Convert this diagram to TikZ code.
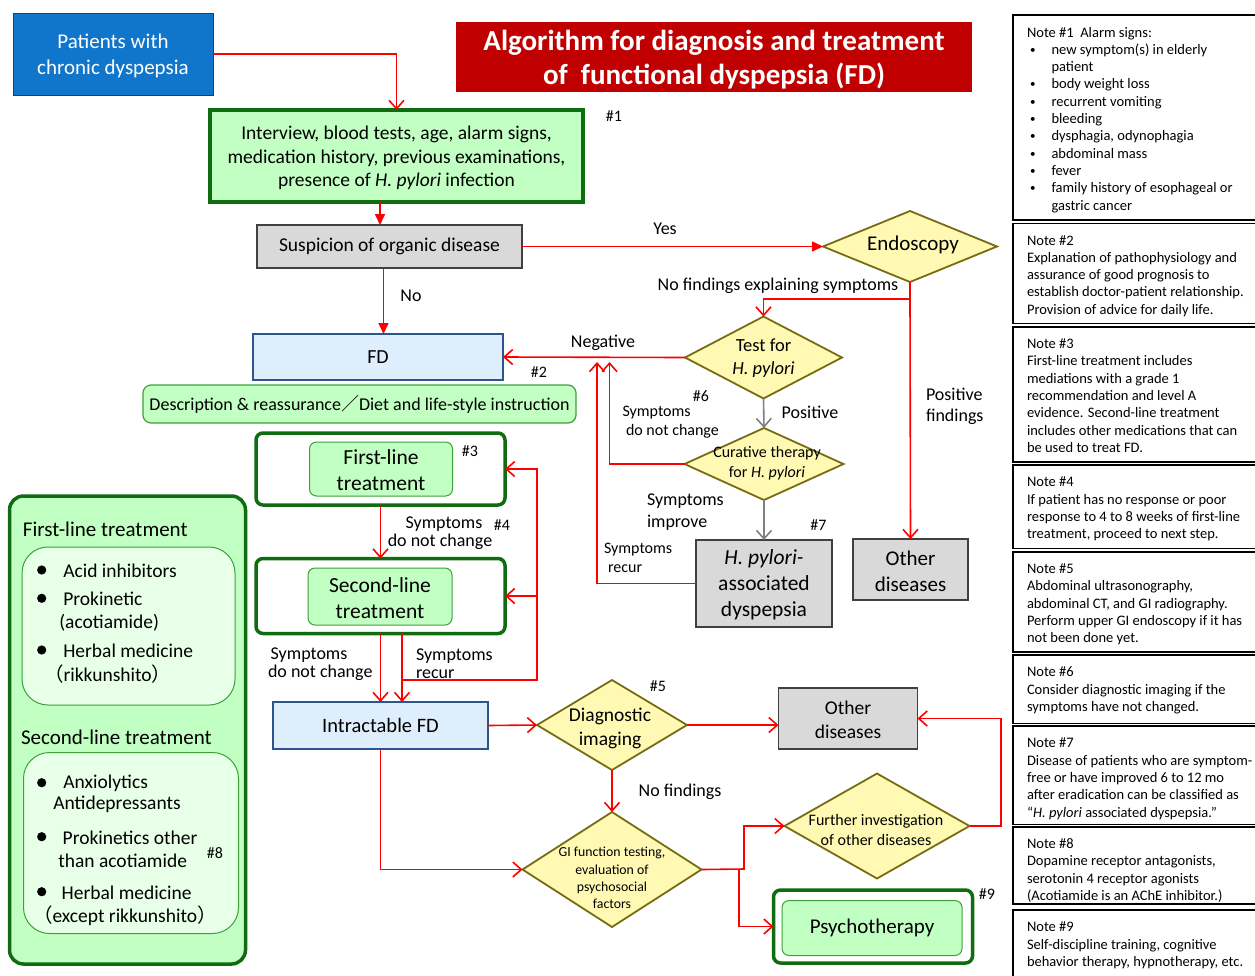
\documentclass[tikz,border=0pt]{standalone}
\usepackage{fontspec}
\setmainfont{Carlito}
\newfontfamily\cjkf{Noto Sans CJK JP}
\usetikzlibrary{arrows.meta,shapes.geometric,calc}
\definecolor{pblue}{RGB}{16,118,204}
\definecolor{pbluedk}{RGB}{30,60,110}
\definecolor{tred}{RGB}{192,0,0}
\definecolor{lgreen}{RGB}{194,255,194}
\definecolor{dgreen}{RGB}{16,108,16}
\definecolor{mgreen}{RGB}{60,160,60}
\definecolor{pgreen}{RGB}{232,255,232}
\definecolor{lblue}{RGB}{222,238,252}
\definecolor{bbord}{RGB}{45,85,140}
\definecolor{gfill}{RGB}{217,217,217}
\definecolor{gbord}{RGB}{64,64,64}
\definecolor{dfill}{RGB}{255,249,180}
\definecolor{dbord}{RGB}{118,108,18}
\definecolor{arrgray}{RGB}{128,128,128}
\newcommand\fsz[2]{\fontsize{#1}{#2}\selectfont}
\newcommand\notebul{\hspace*{3pt}\makebox[21.5pt][l]{\raisebox{1pt}{\fsz{11}{11}•}}}
\newcommand\notecont{\hspace*{24.5pt}}
\begin{document}
\begin{tikzpicture}[x=1pt,y=-1pt,
  every node/.style={inner sep=0pt, outer sep=0pt},
  rl/.style={draw=red, line width=1.6pt},
  ra/.style={rl, -{Straight Barb[length=8.5pt,width=15pt]}},
  rf/.style={rl, -{Triangle[length=11pt,width=10pt]}},
  ga/.style={draw=arrgray, line width=1.6pt, -{Straight Barb[length=8.5pt,width=15pt]}},
  gbox/.style={rectangle, draw=gbord, fill=gfill, line width=1.3pt, align=center},
  bbox/.style={rectangle, draw=bbord, fill=lblue, line width=1.2pt, align=center},
  dia/.style={diamond, draw=dbord, fill=dfill, line width=1.8pt},
  tbox/.style={rectangle, rounded corners=7pt, draw=dgreen, fill=white, line width=3.5pt},
  ibox/.style={rectangle, rounded corners=7pt, draw=mgreen, fill=lgreen, line width=1pt, align=center},
  notebox/.style={rectangle, draw=black, line width=1.6pt, anchor=north west, minimum width=250},
  notetxt/.style={anchor=north west, align=left, font=\fsz{14.5}{17.3}},
  lbl/.style={font=\fsz{18}{21.5}, align=left},
  slbl/.style={font=\fsz{16}{19.3}, align=left},
  hsh/.style={font=\fsz{16}{19}},
  itm/.style={anchor=west, font=\fsz{19.5}{23}},
  bul/.style={fill=black}
]
\useasboundingbox (0,0) rectangle (1255,975);
\clip (0,0) rectangle (1255,975);

% ---------- top ----------
\node[rectangle, draw=pbluedk, fill=pblue, line width=1pt, minimum width=200, minimum height=82] (pat) at (113,54) {};
\node[text=white, font=\fsz{21}{26}, align=center] (patt) at (113,56) {Patients with\\chronic dyspepsia};
\node[rectangle, fill=tred, minimum width=516, minimum height=70] (title) at (714,57) {};
\node[text=white, font=\bfseries\fsz{29}{34}, align=center] (titlet) at (714,60)
      {Algorithm for diagnosis and treatment\\of~~functional dyspepsia (FD)};
\node[rectangle, draw=dgreen, fill=lgreen, line width=3.5pt, minimum width=373, minimum height=92] (intv) at (396.5,156) {};
\node[font=\fsz{19.5}{23.5}, align=center] (intvt) at (396.5,158)
      {Interview, blood tests, age, alarm signs,\\medication history, previous examinations,\\presence of \textit{H. pylori} infection};
\node[hsh] (h1) at (614,116) {\#1};
\node[gbox, minimum width=265, minimum height=43, font=\fsz{19.5}{23}] (susp) at (389.5,246.5) {Suspicion of organic disease};

% ---------- endoscopy branch ----------
\node[dia, minimum width=174, minimum height=71] (endo) at (910,246.5) {};
\node[font=\fsz{21}{25}] (endot) at (913,245) {Endoscopy};
\node[dia, minimum width=157, minimum height=82] (test) at (763.5,357.5) {};
\node[font=\fsz{18.5}{23}, align=center] (testt) at (763.5,358) {Test for\\\textit{H. pylori}};
\node[dia, minimum width=159, minimum height=72] (cur) at (764,464) {};
\node[font=\fsz{16}{19.5}, align=center] (curt) at (767,463) {Curative therapy\\for \textit{H. pylori}};
\node[gbox, minimum width=136, minimum height=87] (hp) at (764,583.5) {};
\node[font=\fsz{21.5}{26}, align=center] (hpt) at (764,584.5) {\textit{H. pylori-}\\associated\\dyspepsia};
\node[gbox, minimum width=115, minimum height=61] (oth1) at (910.5,569.5) {};
\node[font=\fsz{21}{26}, align=center] (oth1t) at (910.5,571) {Other\\diseases};

% ---------- FD branch ----------
\node[bbox, minimum width=250, minimum height=46, font=\fsz{20}{24}] (fd) at (378,357) {FD};
\node[rectangle, rounded corners=8pt, draw=mgreen, fill=lgreen, line width=1.2pt, minimum width=433,
      minimum height=38, font=\fsz{18}{22}] (desc) at (359.5,404)
      {Description \& reassurance{\cjkf ／}Diet and life-style instruction};
\node[tbox, minimum width=249, minimum height=72] (first) at (380.5,469) {};
\node[ibox, minimum width=143, minimum height=54] (firsti) at (381,469) {};
\node[font=\fsz{21.5}{26}, align=center] (firstt) at (381,470.5) {First-line\\treatment};
\node[hsh] (h3) at (470,451) {\#3};
\node[tbox, minimum width=249, minimum height=75] (sec) at (380.5,596) {};
\node[ibox, minimum width=144, minimum height=57] (seci) at (380,596.5) {};
\node[font=\fsz{21.5}{26}, align=center] (sect) at (380,598) {Second-line\\treatment};
\node[bbox, minimum width=215, minimum height=47, font=\fsz{20.5}{24}] (intr) at (380.5,725.5) {Intractable FD};

% ---------- lower branch ----------
\node[dia, minimum width=150, minimum height=90] (diag) at (612,725) {};
\node[font=\fsz{19.5}{24}, align=center] (diagt) at (610,728) {Diagnostic\\imaging};
\node[gbox, minimum width=139, minimum height=61] (oth2) at (848,718.5) {};
\node[font=\fsz{19.5}{24}, align=center] (oth2t) at (848,720) {Other\\diseases};
\node[dia, minimum width=179, minimum height=115] (gi) at (612,869.5) {};
\node[font=\fsz{13.8}{17.3}, align=center] (git) at (612,878) {GI function testing,\\evaluation of\\psychosocial\\factors};
\node[dia, minimum width=185, minimum height=105] (fur) at (877,826) {};
\node[font=\fsz{16}{20}, align=center] (furt) at (876,830) {Further investigation\\of other diseases};
\node[tbox, minimum width=199, minimum height=73] (psy) at (873,926.5) {};
\node[ibox, minimum width=180, minimum height=55, font=\fsz{21}{25}] (psyi) at (872,928) {Psychotherapy};
\node[hsh] (h9) at (987,894) {\#9};
\node[hsh] (h5) at (658,686) {\#5};

% ---------- labels ----------
\node[lbl] (yes) at (665,229) {Yes};
\node[lbl] (no) at (411,296) {No};
\node[lbl] (nfes) at (778,286) {No findings explaining symptoms};
\node[lbl] (neg) at (603,342.5) {Negative};
\node[hsh] (h2) at (539,372) {\#2};
\node[lbl, anchor=west] (posf) at (926,406.5) {Positive\\findings};
\node[lbl] (pos) at (810,412) {Positive};
\node[hsh] (h6) at (701,396.5) {\#6};
\node[slbl, anchor=west] (sdnc1) at (622.5,422) {Symptoms\\\hspace*{3.5pt}do not change};
\node[lbl, anchor=west] (simp) at (647,512) {Symptoms\\improve};
\node[slbl, anchor=west] (srec1) at (604,558) {Symptoms\\\hspace*{4pt}recur};
\node[hsh] (h7) at (818.5,525.5) {\#7};
\node[lbl] (s4a) at (444,524) {Symptoms};
\node[hsh] (h4) at (502,525) {\#4};
\node[lbl] (s4b) at (440,542) {do not change};
\node[font=\fsz{18}{18}, align=left, anchor=west] (sdnc2) at (268,664.5) {\hspace*{2.7pt}Symptoms\\do not change};
\node[font=\fsz{18}{18}, align=left, anchor=west] (srec2) at (416,663.5) {Symptoms\\recur};
\node[lbl] (nof) at (680,792) {No findings};

% ---------- connectors ----------
\draw[ra] (pat.east) -| (intv.north);
\draw[rf] ([xshift=-16.5pt]intv.south) -- ([xshift=-16.5pt]intv.south |- susp.north);
\draw[rf] ([xshift=-6pt]susp.south) -- ([xshift=-6pt]susp.south |- fd.north);
\draw[rf] (susp.east) -- (endo.west);
\coordinate (ej) at (910,299);
\draw[ra] (endo.south) -- (ej) -| (test.north);
\draw[ra] (ej) -- (oth1.north);
\draw[ra] (test.west) -- (fd.east);
\coordinate (tipA) at (597,362);
\coordinate (tipB) at (609.5,362);
\draw[ra] (cur.west) -| (tipB);
\draw[ra] (hp.west) -| (tipA);
\draw[ga] (test.south) -- (cur.north);
\draw[ga] (cur.south) -- (hp.north);
\draw[ra] (first.south) -- (sec.north);
\coordinate (sr) at (402,680);
\coordinate (rb) at (537,680);
\draw[ra] (sec.south -| sr) -- (sr |- intr.north);
\draw[ra] (sr) -- (rb) |- (first.east);
\draw[ra] (rb |- sec.east) -- (sec.east);
\draw[ra] (sec.south) -- (intr.north);
\draw[ra] (intr.east) -- (diag.west);
\draw[ra] (diag.east) -- (diag.east -| oth2.west);
\draw[ra] (diag.south) -- (gi.north);
\draw[ra] (intr.south) |- (gi.west);
\coordinate (gj) at (744,869);
\coordinate (gk) at (739,869);
\draw[ra] (gi.east) -- (gj) |- (fur.west);
\draw[ra] (gk) |- (psy.west);
\coordinate (fj) at (1001,826);
\draw[ra] (fur.east) -- (fj) |- (oth2.east);

% ---------- left panel ----------
\node[rectangle, rounded corners=14pt, draw=dgreen, fill=lgreen, line width=3.5pt, minimum width=236, minimum height=468] (lp) at (127.5,730) {};
\node[rectangle, rounded corners=26pt, draw=mgreen, fill=pgreen, line width=1pt, minimum width=213, minimum height=158] (lp1) at (128.5,626) {};
\node[rectangle, rounded corners=26pt, draw=mgreen, fill=pgreen, line width=1pt, minimum width=215, minimum height=181] (lp2) at (131,843) {};
\node[anchor=west, font=\fsz{21}{25}] (lph1) at (23,529) {First-line treatment};
\node[anchor=west, font=\fsz{21}{25}] (lph2) at (21,737) {Second-line treatment};
\fill[bul] (41.7,570) circle (4.6);
\fill[bul] (41.7,598.3) circle (4.6);
\fill[bul] (41.7,650) circle (4.6);
\fill[bul] (41.7,782.7) circle (4.6);
\fill[bul] (41.7,836.7) circle (4.6);
\fill[bul] (41.7,891.7) circle (4.6);
\node[itm] (i1) at (63.3,570.5) {Acid inhibitors};
\node[itm] (i2) at (63.3,599) {Prokinetic};
\node[itm] (i2b) at (59.3,622.5) {(acotiamide)};
\node[itm] (i3) at (63.3,650.5) {Herbal medicine};
\node[itm] (i3b) at (44,674) {{\cjkf （}rikkunshito{\cjkf ）}};
\node[itm] (j1) at (63.3,783.5) {Anxiolytics};
\node[itm] (j1b) at (53.3,804) {Antidepressants};
\node[itm] (j2) at (62.7,837.5) {Prokinetics other};
\node[itm] (j2b) at (58.3,861) {than acotiamide};
\node[hsh] (h8) at (215,853.3) {\#8};
\node[itm] (j3) at (61.7,892.5) {Herbal medicine};
\node[itm] (j3b) at (33,915.5) {{\cjkf （}except rikkunshito{\cjkf ）}};

% ---------- notes ----------
\node[notebox, minimum height=205] (n1) at (1013,15) {};
\node[notetxt] (n1t) at (1027,27) {Note \#1~~Alarm signs:\\
\notebul new symptom(s) in elderly\\ \notecont patient\\
\notebul body weight loss\\ \notebul recurrent vomiting\\ \notebul bleeding\\
\notebul dysphagia, odynophagia\\ \notebul abdominal mass\\ \notebul fever\\
\notebul family history of esophageal or\\ \notecont gastric cancer};
\node[notebox, minimum height=100] (n2) at (1013,223.3) {};
\node[notetxt] (n2t) at (1027,235.3) {Note \#2\\Explanation of pathophysiology and\\assurance of good prognosis to\\establish doctor-patient relationship.\\Provision of advice for daily life.};
\node[notebox, minimum height=135] (n3) at (1013,326.7) {};
\node[notetxt] (n3t) at (1027,338.7) {Note \#3\\First-line treatment includes\\mediations with a grade 1\\recommendation and level A\\evidence. Second-line treatment\\includes other medications that can\\be used to treat FD.};
\node[notebox, minimum height=83.3] (n4) at (1013,465) {};
\node[notetxt] (n4t) at (1027,477) {Note \#4\\If patient has no response or poor\\response to 4 to 8 weeks of first-line\\treatment, proceed to next step.};
\node[notebox, minimum height=100] (n5) at (1013,551.7) {};
\node[notetxt] (n5t) at (1027,563.7) {Note \#5\\Abdominal ultrasonography,\\abdominal CT, and GI radiography.\\Perform upper GI endoscopy if it has\\not been done yet.};
\node[notebox, minimum height=68.3] (n6) at (1013,655) {};
\node[notetxt] (n6t) at (1027,667) {Note \#6\\Consider diagnostic imaging if the\\symptoms have not changed.};
\node[notebox, minimum height=98.3] (n7) at (1013,726) {};
\node[notetxt] (n7t) at (1027,738) {Note \#7\\Disease of patients who are symptom-\\free or have improved 6 to 12 mo\\after eradication can be classified as\\“\textit{H. pylori} associated dyspepsia.”};
\node[notebox, minimum height=77.3] (n8) at (1013,826.7) {};
\node[notetxt] (n8t) at (1027,838.7) {Note \#8\\Dopamine receptor antagonists,\\serotonin 4 receptor agonists\\(Acotiamide is an AChE inhibitor.)};
\node[notebox, minimum height=80] (n9) at (1013,910) {};
\node[notetxt] (n9t) at (1027,922) {Note \#9\\Self-discipline training, cognitive\\behavior therapy, hypnotherapy, etc.};
\end{tikzpicture}
\end{document}
